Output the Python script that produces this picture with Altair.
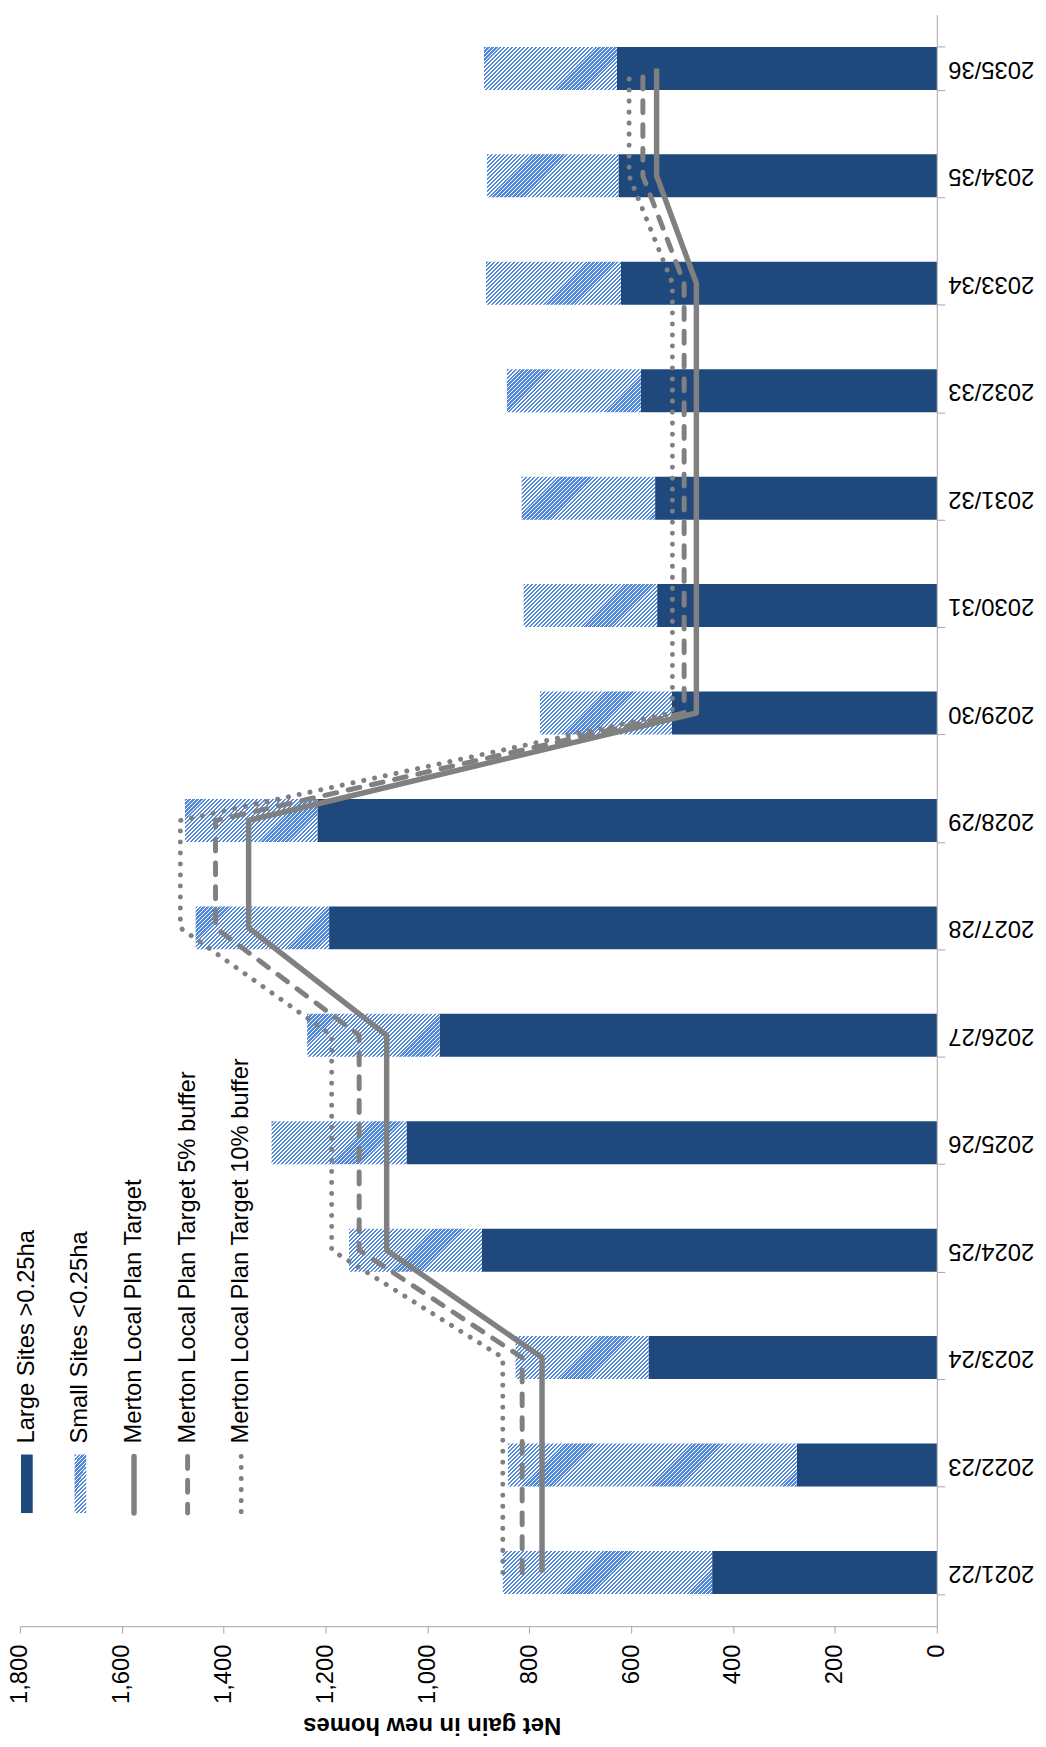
import altair as alt
import pandas as pd

categories = ["2021/22", "2022/23", "2023/24", "2024/25", "2025/26", "2026/27", "2027/28",
              "2028/29", "2029/30", "2030/31", "2031/32", "2032/33", "2033/34", "2034/35", "2035/36"]
large_sites = [441, 275, 566, 893, 1041, 976, 1193, 1216, 520, 549, 553, 581, 620, 625, 628]
small_sites = [411, 567, 261, 261, 265, 260, 262, 260, 259, 262, 262, 263, 265, 258, 261]
target = [775, 775, 775, 1080, 1080, 1080, 1351, 1351, 472, 472, 472, 472, 472, 550, 550]
target_5 = [814, 814, 814, 1134, 1134, 1134, 1416, 1416, 496, 496, 496, 496, 496, 577, 577]
target_10 = [852, 852, 852, 1188, 1188, 1188, 1485, 1485, 519, 519, 519, 519, 519, 604, 604]
legend_labels = ["Large Sites >0.25ha", "Small Sites <0.25ha", "Merton Local Plan Target",
                 "Merton Local Plan Target 5% buffer", "Merton Local Plan Target 10% buffer"]
value_ticks = [0, 200, 400, 600, 800, 1000, 1200, 1400, 1600, 1800]

W, H = 924, 1624
FONT = "Liberation Sans"
DARK = "#1f497d"
HATCH = "#5289d8"
GREY = "#808080"
AXIS_GREY = "#a6a6a6"
PAD_INNER, PAD_OUTER = 0.6, 0.3

df = pd.DataFrame({"cat": categories, "large": large_sites, "small": small_sites})
df["total"] = df["large"] + df["small"]
df["zero"] = 0

x_scale = alt.Scale(domain=[0, 1800], reverse=True, nice=False, zero=True)
x_axis = alt.Axis(values=value_ticks, format=",.0f", labelAngle=270, labelAlign="right",
                  labelBaseline="middle", labelPadding=11, tickSize=7, labelFlush=False,
                  labelOverlap=False, grid=False, domainColor=AXIS_GREY, tickColor=AXIS_GREY,
                  labelFont=FONT, labelFontSize=24, labelColor="#000000",
                  title="Net gain in new homes", titleAngle=180, titleFont=FONT, titleFontSize=24,
                  titleFontWeight="bold", titleColor="#000000", titleX=415, titleY=99,
                  titleAlign="center", titleBaseline="middle")
y_scale = alt.Scale(domain=categories[::-1], paddingInner=PAD_INNER, paddingOuter=PAD_OUTER)
y_axis = alt.Axis(orient="right", title=None, tickBand="extent", labelAngle=180,
                  labelAlign="right", labelBaseline="middle", labelPadding=3, tickSize=8,
                  labelFont=FONT, labelFontSize=24, labelColor="#000000", labelLimit=0,
                  domainColor=AXIS_GREY, tickColor=AXIS_GREY, grid=False)
y_enc = alt.Y("cat:N", scale=y_scale, axis=y_axis)

px_per_unit = W / 1800.0
band_step = H / (len(categories) - PAD_INNER + 2 * PAD_OUTER)
bar_h = band_step * (1 - PAD_INNER)


def hatch(w_px, h_px, period=4.0, frac=0.56):
    r = h_px / w_px
    k = (1 + r) / (1 + r * r)
    total = w_px + h_px
    stops = []
    i = 0
    while True:
        t0 = i * period / total
        if t0 > 1:
            break
        t1 = min((i * period + period * frac) / total, 1.0)
        t2 = min(((i + 1) * period) / total, 1.0)
        stops += [{"offset": round(t0, 5), "color": HATCH},
                  {"offset": round(t1, 5), "color": HATCH},
                  {"offset": round(t1, 5), "color": "#ffffff"},
                  {"offset": round(t2, 5), "color": "#ffffff"}]
        i += 1
    return {"gradient": "linear", "x1": 0, "y1": 0, "x2": k, "y2": k * r, "stops": stops}


large_bar = alt.Chart(df).mark_bar(color=DARK).encode(
    x=alt.X("zero:Q", scale=x_scale, axis=x_axis), x2="large:Q", y=y_enc)

layers = [large_bar]
for c, s in zip(categories, small_sites):
    layers.append(
        alt.Chart(df).transform_filter(alt.datum.cat == c)
        .mark_bar(fill=hatch(s * px_per_unit, bar_h), strokeWidth=0)
        .encode(x=alt.X("large:Q", scale=x_scale, axis=x_axis), x2="total:Q", y=y_enc))

series = [(target, None, 5.5, "butt"), (target_5, [12, 12], 5, "round"), (target_10, [0.1, 11], 5, "round")]
for vals, dash, sw, cap in series:
    ldf = pd.DataFrame({"cat": categories, "val": vals, "idx": list(range(len(categories)))})
    kw = dict(color=GREY, strokeWidth=sw, strokeCap=cap, strokeJoin="round")
    if dash:
        kw["strokeDash"] = dash
    layers.append(alt.Chart(ldf).mark_line(**kw).encode(
        x=alt.X("val:Q", scale=x_scale, axis=x_axis), y=y_enc, order="idx:Q"))

main = alt.layer(*layers)

# legend
leg = pd.DataFrame({"idx": list(range(len(legend_labels))), "label": legend_labels})
lx = alt.X("idx:Q", scale=alt.Scale(domain=[0, 4], range=[7, 223]), axis=None)
leg_layers = [
    alt.Chart(leg).mark_text(angle=270, align="left", baseline="middle", font=FONT,
                             fontSize=24, color="#000000").encode(
        x=lx, y=alt.value(1440), text="label:N")
]
shape = "M-0.2,-1L0.2,-1L0.2,1L-0.2,1Z"
leg_layers.append(alt.Chart(leg).transform_filter(alt.datum.idx == 0).mark_point(
    shape=shape, size=59 * 59, filled=True, fill=DARK, opacity=1, strokeWidth=0).encode(
    x=lx, y=alt.value(1480.5)))
leg_layers.append(alt.Chart(leg).transform_filter(alt.datum.idx == 1).mark_point(
    shape=shape, size=59 * 59, filled=True, fill=hatch(12, 59), opacity=1, strokeWidth=0).encode(
    x=lx, y=alt.value(1480.5)))
for k, (vals, dash, sw, cap) in enumerate(series):
    kw = dict(color=GREY, strokeWidth=sw, strokeCap="round")
    if dash:
        kw["strokeDash"] = dash
    leg_layers.append(alt.Chart(leg).transform_filter(alt.datum.idx == k + 2).mark_rule(**kw).encode(
        x=lx, y=alt.value(1453), y2=alt.value(1510)))
legend = alt.layer(*leg_layers)

chart = alt.layer(main, legend).resolve_scale(x="independent", y="independent").properties(
    width=W, height=H,
    autosize=alt.AutoSizeParams(type="none"),
    padding={"left": 12, "top": 0, "right": 102, "bottom": 115},
    background="#ffffff",
).configure_view(stroke=None)

chart.save("out.html", embed_options={"renderer": "svg", "actions": False})
